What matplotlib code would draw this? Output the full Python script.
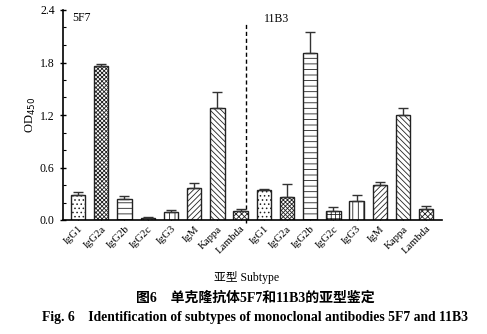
import matplotlib
matplotlib.use("Agg")
import matplotlib.pyplot as plt
import numpy as np

subtypes = ["IgG1", "IgG2a", "IgG2b", "IgG2c", "IgG3", "IgM", "Kappa", "Lambda"]
od_5f7 = [0.29, 1.757, 0.237, 0.023, 0.091, 0.362, 1.276, 0.099]
err_5f7 = [0.03, 0.023, 0.037, 0.011, 0.02, 0.065, 0.187, 0.027]
od_11b3 = [0.343, 0.263, 1.909, 0.103, 0.213, 0.404, 1.20, 0.122]
err_11b3 = [0.015, 0.148, 0.24, 0.049, 0.073, 0.034, 0.076, 0.038]
hatches = ["....", "xxxxxxxx", "---", "++++", "|||", "//////", "\\\\\\\\\\\\", "xxxxxx"]
yticks = [0.0, 0.6, 1.2, 1.8, 2.4]

plt.rcParams["hatch.linewidth"] = 0.6
serif = ["Liberation Serif", "Noto Sans CJK SC"]

fig = plt.figure(figsize=(4.87, 3.34), dpi=100)
ax = fig.add_axes([63/487, 1-220/334, (441.7-63)/487, 210/334])

labels = subtypes + subtypes
values = od_5f7 + od_11b3
errs = err_5f7 + err_11b3
hs = hatches + hatches
x = np.arange(len(values))
for xi, v, e, h in zip(x, values, errs, hs):
    ax.bar(xi, v, width=0.62, color="white", edgecolor="#222222", linewidth=1.0,
           hatch=h, zorder=2)
    ax.errorbar(xi, v, yerr=[[0], [e]], fmt="none", ecolor="#333333",
                elinewidth=1.0, capsize=3.5, capthick=1.0, zorder=3)

ax.set_xlim(-0.65, 15.67)
ax.set_ylim(0, 2.4)
ax.set_yticks(yticks)
ax.set_yticklabels([f"{t:.1f}" for t in yticks], family="Liberation Serif", fontsize=8.5)
ax.set_yticks(np.arange(0.2, 2.4, 0.2), minor=True)
ax.tick_params(axis="y", which="major", direction="inout", length=5, width=1)
ax.tick_params(axis="y", which="minor", direction="in", length=2.5, width=0.8)
ax.set_xticks(x)
ax.set_xticklabels(labels, rotation=45, ha="right", rotation_mode="anchor",
                   family="Liberation Serif", fontsize=7.8)
ax.tick_params(axis="x", direction="in", length=2.5, width=0.8, pad=3)
for s in ["top", "right"]:
    ax.spines[s].set_visible(False)
ax.spines["left"].set_linewidth(1.2)
ax.spines["bottom"].set_linewidth(1.2)

ax.plot([7.25, 7.25], [-0.03, 2.24], ls=(0, (3, 2)), color="black", lw=1.0,
        clip_on=False, zorder=1)

ax.text((72 - 63) / 378.7, 0.99, "5F7", transform=ax.transAxes, family="Liberation Serif",
        fontsize=8.5, va="top", ha="left")
ax.text((264 - 63) / 378.7, 0.985, "11B3", transform=ax.transAxes,
        family="Liberation Serif", fontsize=8.5, va="top", ha="left")

ax.set_ylabel("OD$_{450}$", family="Liberation Serif", fontsize=9, labelpad=1)

fig.text(247/487, 1-277/334, "亚型 Subtype", family=serif, fontsize=8.5,
         ha="center", va="center")
fig.text(255/487, 1-298/334, "图6　单克隆抗体5F7和11B3的亚型鉴定", family=serif,
         fontsize=10, fontweight="bold", ha="center", va="center")
fig.text(255/487, 1-318/334,
         "Fig. 6    Identification of subtypes of monoclonal antibodies 5F7 and 11B3",
         family=serif, fontsize=9.8, fontweight="bold", ha="center", va="center")

fig.savefig("out.png", dpi=100)
